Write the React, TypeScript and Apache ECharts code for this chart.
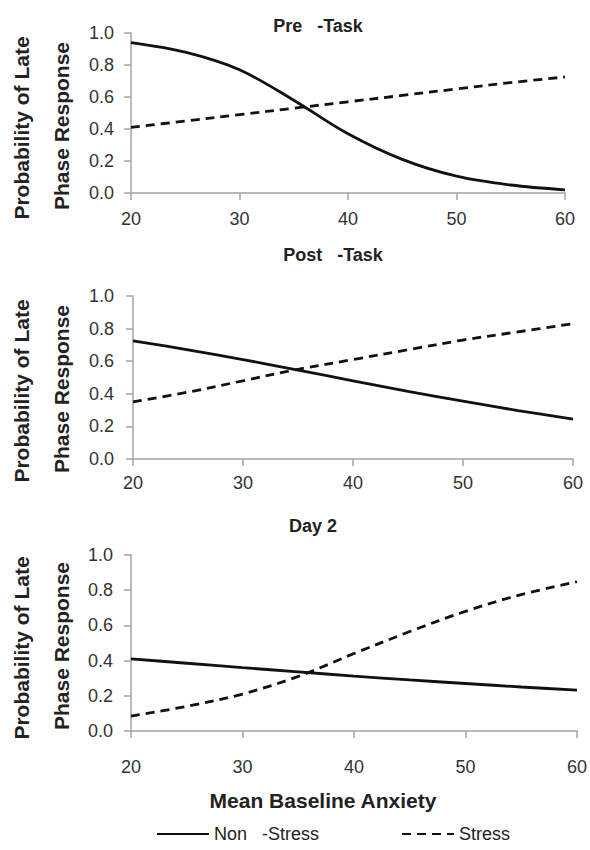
import React, { useEffect, useRef } from "react";
import * as echarts from "echarts";

const xValues = [20, 25, 30, 35, 40, 45, 50, 55, 60];
const xTicks = [20, 30, 40, 50, 60];

const preNonStress = [0.94, 0.88, 0.77, 0.58, 0.37, 0.21, 0.105, 0.05, 0.02];
const preStress = [0.41, 0.45, 0.49, 0.53, 0.57, 0.61, 0.65, 0.69, 0.725];
const postNonStress = [0.725, 0.67, 0.61, 0.545, 0.48, 0.415, 0.355, 0.297, 0.245];
const postStress = [0.35, 0.41, 0.48, 0.55, 0.61, 0.67, 0.73, 0.78, 0.83];
const day2NonStress = [0.41, 0.385, 0.36, 0.336, 0.312, 0.29, 0.27, 0.25, 0.232];
const day2Stress = [0.085, 0.14, 0.21, 0.31, 0.44, 0.565, 0.68, 0.775, 0.848];

const panelTitles = ["Pre   -Task", "Post   -Task", "Day 2"];
const seriesNames = ["Non   -Stress", "Stress"];
const yTitleLines = ["Probability of Late", "Phase Response"];
const xTitle = "Mean Baseline Anxiety";

const FONT = "'Liberation Sans', Arial, sans-serif";

export default function App() {
  const ref = useRef<HTMLDivElement>(null);
  useEffect(() => {
    if (!ref.current) return;
    const chart = echarts.init(ref.current, null, { renderer: "svg" });

    const grids = [
      { left: 131, top: 33, width: 434, height: 160 },
      { left: 133, top: 296, width: 440, height: 163 },
      { left: 131, top: 555, width: 452, height: 176 },
    ];
    const xLabelMargins = [17, 15, 27];
    const yLabelMargins = [17, 19, 18];
    const titlePos = [
      { x: 313, y: 12 },
      { x: 328, y: 241 },
      { x: 308, y: 512 },
    ];
    const yTitleCenters = [128, 391, 648];
    const panels = [
      [preNonStress, preStress],
      [postNonStress, postStress],
      [day2NonStress, day2Stress],
    ];

    const axisColor = "#a3a3a3";
    const xAxes = grids.map((_, i) => ({
      type: "value",
      gridIndex: i,
      min: 20,
      max: 60,
      interval: 10,
      axisLine: { show: true, onZero: false, lineStyle: { color: axisColor, width: 1.5 } },
      axisTick: { show: true, inside: false, length: 7, lineStyle: { color: axisColor, width: 1.5 } },
      axisLabel: {
        show: true,
        margin: xLabelMargins[i],
        fontSize: 18,
        fontFamily: FONT,
        color: "#333",
        customValues: xTicks,
      },
      splitLine: { show: false },
    }));
    const yAxes = grids.map((_, i) => ({
      type: "value",
      gridIndex: i,
      min: 0,
      max: 1,
      interval: 0.2,
      axisLine: { show: true, lineStyle: { color: axisColor, width: 1.5 } },
      axisTick: { show: true, inside: false, length: 7, lineStyle: { color: axisColor, width: 1.5 } },
      axisLabel: {
        margin: yLabelMargins[i],
        fontSize: 18,
        fontFamily: FONT,
        color: "#333",
        formatter: (v: number) => v.toFixed(1),
      },
      splitLine: { show: false },
    }));

    const series: any[] = [];
    panels.forEach((p, i) => {
      p.forEach((vals, j) => {
        series.push({
          type: "line",
          name: seriesNames[j],
          xAxisIndex: i,
          yAxisIndex: i,
          data: xValues.map((x, k) => [x, vals[k]]),
          smooth: 0.35,
          symbol: "none",
          lineStyle: {
            color: "#111",
            width: 2.8,
            type: j === 0 ? "solid" : [9, 6],
          },
          itemStyle: { color: "#111" },
        });
      });
    });

    const graphics: any[] = [];
    yTitleCenters.forEach((cy) => {
      graphics.push({
        type: "text",
        x: 21,
        y: cy,
        rotation: Math.PI / 2,
        style: {
          text: yTitleLines[0],
          font: `bold 21px ${FONT}`,
          fill: "#222",
          textAlign: "center",
          textVerticalAlign: "middle",
        },
      });
      graphics.push({
        type: "text",
        x: 61,
        y: cy - 2,
        rotation: Math.PI / 2,
        style: {
          text: yTitleLines[1],
          font: `bold 21px ${FONT}`,
          fill: "#222",
          textAlign: "center",
          textVerticalAlign: "middle",
        },
      });
    });
    graphics.push({
      type: "text",
      x: 323,
      y: 800,
      style: {
        text: xTitle,
        font: `bold 21px ${FONT}`,
        fill: "#222",
        textAlign: "center",
        textVerticalAlign: "middle",
      },
    });

    chart.setOption({
      animation: false,
      backgroundColor: "#fff",
      title: panelTitles.map((t, i) => ({
        text: t,
        left: titlePos[i].x,
        top: titlePos[i].y,
        textAlign: "center",
        textStyle: { fontSize: 18, fontWeight: "bold", fontFamily: FONT, color: "#222" },
      })),
      grid: grids.map((g) => ({ ...g, containLabel: false })),
      xAxis: xAxes,
      yAxis: yAxes,
      legend: {
        data: seriesNames,
        left: 156,
        top: 825,
        padding: 0,
        itemWidth: 52,
        itemHeight: 14,
        itemGap: 82,
        itemStyle: { opacity: 0 },
        textStyle: { fontSize: 18, fontFamily: FONT, color: "#222" },
      },
      graphic: graphics,
      series,
    });
    return () => chart.dispose();
  }, []);
  return (
    <div
      ref={ref}
      style={{ position: "absolute", left: 0, top: 0, width: 590, height: 850 }}
    />
  );
}
